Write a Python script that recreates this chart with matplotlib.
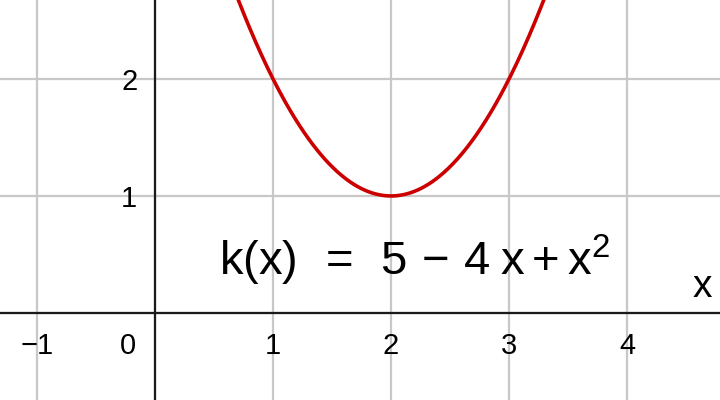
import numpy as np
import matplotlib
matplotlib.use("Agg")
import matplotlib.pyplot as plt

plt.rcParams['font.family'] = ['Liberation Sans', 'DejaVu Sans']
plt.rcParams['mathtext.fontset'] = 'custom'
plt.rcParams['mathtext.rm'] = 'Liberation Sans'
plt.rcParams['mathtext.it'] = 'Liberation Sans'
plt.rcParams['mathtext.sf'] = 'Liberation Sans'

# ticks and labels
x_ticks = [-1, 0, 1, 2, 3, 4]
x_labels = ['\u22121', '0', '1', '2', '3', '4']
y_ticks = [1, 2]
y_labels = ['1', '2']

# k(x) = 5 - 4x + x^2
coef = [1, -4, 5]
x_range = (0.5, 3.5)

formula = r'$\mathregular{k(x)\ \,=\ \,5\,-\,4\;x+x^2}$'

fig = plt.figure(figsize=(7.2, 4), dpi=100)
ax = fig.add_axes([0, 0, 1, 1])
ax.set_xlim(-1.314, 4.788)
ax.set_ylim(-0.744, 2.675)

# Сетка
for xv in np.arange(-1, 5):
    ax.axvline(xv, color='#c8c8c8', lw=1.6, zorder=1)
for yv in np.arange(-0, 3):
    ax.axhline(yv, color='#c8c8c8', lw=1.6, zorder=1)

# Оси
ax.axhline(0, color='#1a1a1a', lw=1.6, zorder=2)
ax.axvline(0, color='#1a1a1a', lw=1.6, zorder=2)

for sp in ax.spines.values():
    sp.set_visible(False)
ax.set_xticks([])
ax.set_yticks([])

# Подписи делений
for xv, lab in zip(x_ticks, x_labels):
    if xv == 0:
        ax.text(-0.23, -0.16, lab, ha='center', va='top', fontsize=21)
    else:
        ax.text(xv, -0.16, lab, ha='center', va='top', fontsize=21)
for yv, lab in zip(y_ticks, y_labels):
    ax.text(-0.15, yv - 0.03, lab, ha='right', va='center', fontsize=21)

ax.text(4.72, 0.07, 'x', ha='right', va='bottom', fontsize=28)

# Кривая
xs = np.linspace(*x_range, 300)
ys = np.polyval(coef, xs)
ax.plot(xs, ys, color='#cc0000', lw=2.6, zorder=3)

ax.text(2.2, 0.45, formula, ha='center', va='center', fontsize=34)

fig.savefig('out.png', dpi=100)
